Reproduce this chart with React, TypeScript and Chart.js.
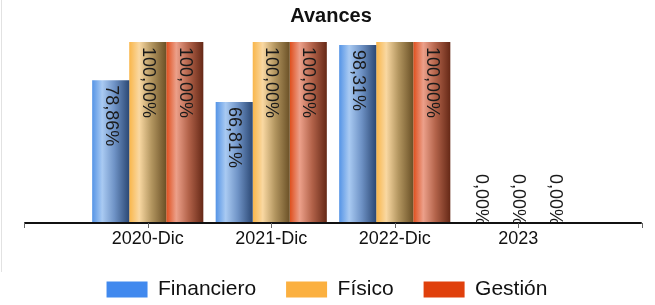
import React, { useEffect, useRef } from 'react';
import { Chart, registerables } from 'chart.js';

Chart.register(...registerables);

const categories = ['2020-Dic', '2021-Dic', '2022-Dic', '2023'];
const seriesNames = ['Financiero', 'Físico', 'Gestión'];
const financiero = [78.86, 66.81, 98.31, 0];
const fisico = [100, 100, 100, 0];
const gestion = [100, 100, 100, 0];
// [seriesIndex, categoryIndex] of value labels that the reference does not show
const hiddenLabels = [[1, 2]];

const legendColors = ['#4189ee', '#fbb040', '#e0400c'];
const gradientStops = [
  ['#5594e6', '#a9caf2', '#6f93c6', '#2b4874'],
  ['#f9b64a', '#f9d8a2', '#b39660', '#6a5026'],
  ['#df4e1c', '#eca08a', '#b3634a', '#652816'],
];

const FONT = '"Liberation Sans", Arial, sans-serif';
const CAT_PCT = 0.9;
const LEGEND_PAD = 30;
const LEGEND_SHIFT = -4;

const fmt = (v: number) => v.toFixed(2).replace('.', ',') + '%';

function barFill(ctx: any) {
  const di = ctx.datasetIndex;
  const base = legendColors[di];
  if (ctx.type !== 'data') return base;
  const chart = ctx.chart;
  const xs = chart.scales && chart.scales.x;
  if (!xs || !chart.chartArea) return base;
  const center = xs.getPixelForValue(ctx.dataIndex);
  const catW = xs.width / categories.length;
  const groupW = catW * CAT_PCT;
  const barW = groupW / seriesNames.length;
  const left = center - groupW / 2 + di * barW;
  const g = chart.ctx.createLinearGradient(left, 0, left + barW, 0);
  const s = gradientStops[di];
  g.addColorStop(0, s[0]);
  g.addColorStop(0.27, s[1]);
  g.addColorStop(0.6, s[2]);
  g.addColorStop(1, s[3]);
  return g;
}

const axisAndLabels = {
  id: 'axisAndLabels',
  afterLayout(chart: any) {
    if (chart.legend) {
      chart.legend.left += LEGEND_SHIFT;
      chart.legend.right += LEGEND_SHIFT;
    }
  },
  afterDatasetsDraw(chart: any) {
    const { ctx, chartArea, scales } = chart;
    const x = scales.x;
    const y = scales.y;
    const base = y.getPixelForValue(0);
    const half = x.width / categories.length / 2;

    // value labels (rotated)
    chart.data.datasets.forEach((ds: any, di: number) => {
      const meta = chart.getDatasetMeta(di);
      meta.data.forEach((bar: any, i: number) => {
        if (hiddenLabels.some(([s, c]) => s === di && c === i)) return;
        const text = fmt(ds.data[i]);
        ctx.save();
        ctx.font = '18px ' + FONT;
        const w = ctx.measureText(text).width;
        let start = bar.y + 5;
        if (start + w > base) start = base - w + 2;
        ctx.beginPath();
        ctx.rect(0, 0, chart.width, base);
        ctx.clip();
        ctx.translate(bar.x, start);
        ctx.rotate(Math.PI / 2);
        ctx.textAlign = 'left';
        ctx.textBaseline = 'middle';
        ctx.fillStyle = '#1a1a1a';
        ctx.fillText(text, 0, 0);
        ctx.restore();
      });
    });

    // baseline axis extended half a category on each side
    const left = chartArea.left - half;
    const right = chartArea.right + half;
    ctx.save();
    ctx.strokeStyle = '#111';
    ctx.lineWidth = 2;
    ctx.beginPath();
    ctx.moveTo(left, base);
    ctx.lineTo(right, base);
    ctx.stroke();
    ctx.lineWidth = 1;
    ctx.strokeStyle = '#666';
    ctx.beginPath();
    const tickXs = [left, ...categories.map((_, i) => x.getPixelForValue(i)), right];
    tickXs.forEach((tx) => {
      const px = Math.round(tx) + 0.5;
      ctx.moveTo(px, base);
      ctx.lineTo(px, base + 5);
    });
    ctx.stroke();
    ctx.restore();
  },
};

const hiddenAxis = {
  grid: { display: false, drawTicks: false },
  border: { display: false },
  ticks: { display: false },
};

export default function App() {
  const ref = useRef<HTMLCanvasElement | null>(null);

  useEffect(() => {
    document.body.style.margin = '0';
    if (!ref.current) return;
    const values = [financiero, fisico, gestion];
    const chart = new Chart(ref.current, {
      type: 'bar',
      data: {
        labels: categories,
        datasets: seriesNames.map((name, i) => ({
          label: name,
          data: values[i],
          backgroundColor: barFill,
          borderWidth: 0,
          categoryPercentage: CAT_PCT,
          barPercentage: 1,
        })),
      },
      options: {
        responsive: false,
        animation: false,
        layout: { padding: { left: 7, right: 0, top: 0, bottom: 0 } },
        plugins: {
          title: {
            display: true,
            text: 'Avances',
            color: '#111',
            font: { family: FONT, size: 20, weight: 'bold' },
            padding: { top: 4, bottom: 14 },
          },
          legend: {
            position: 'bottom',
            labels: {
              color: '#111',
              font: { family: FONT, size: 21 },
              boxWidth: 41,
              boxHeight: 16,
              padding: LEGEND_PAD,
              generateLabels: () =>
                seriesNames.map((name, i) => ({
                  text: name,
                  fillStyle: legendColors[i],
                  strokeStyle: legendColors[i],
                  lineWidth: 0,
                  hidden: false,
                  datasetIndex: i,
                  fontColor: '#111',
                })),
            },
          },
          tooltip: { enabled: false },
        },
        scales: {
          x: {
            grid: { display: false, drawTicks: false },
            border: { display: false },
            ticks: {
              color: '#111',
              font: { family: FONT, size: 18 },
              padding: 5,
              maxRotation: 0,
            },
            afterFit: (scale: any) => {
              scale.height = 26;
            },
          },
          y: {
            ...hiddenAxis,
            position: 'left',
            min: 0,
            max: 100,
            afterFit: (scale: any) => {
              scale.width = 79;
            },
          },
          yRight: {
            ...hiddenAxis,
            type: 'linear',
            position: 'right',
            afterFit: (scale: any) => {
              scale.width = 75;
            },
          },
        },
      },
      plugins: [axisAndLabels],
    });
    return () => chart.destroy();
  }, []);

  return (
    <div style={{ position: 'relative', width: 655, height: 305, overflow: 'hidden', background: '#fff' }}>
      <div style={{ position: 'absolute', left: 1, top: 0, width: 1, height: 272, background: '#e2e2e2' }} />
      <canvas ref={ref} width={655} height={310} style={{ display: 'block' }} />
    </div>
  );
}
